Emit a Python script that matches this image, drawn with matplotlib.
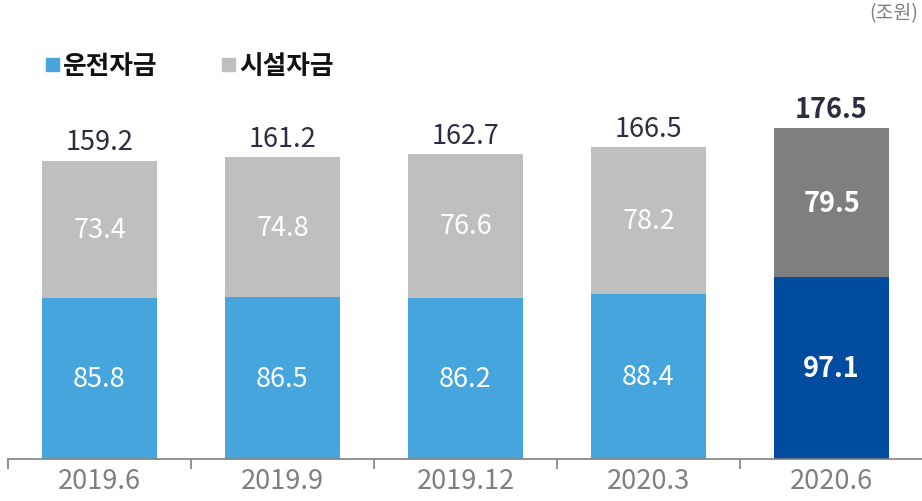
import matplotlib
matplotlib.use("Agg")
import matplotlib.pyplot as plt
from matplotlib.patches import Rectangle

plt.rcParams['font.family'] = ['Noto Sans CJK KR', 'DejaVu Sans']

categories = ["2019.6", "2019.9", "2019.12", "2020.3", "2020.6"]
operating = [85.8, 86.5, 86.2, 88.4, 97.1]
facility = [73.4, 74.8, 76.6, 78.2, 79.5]
totals = [159.2, 161.2, 162.7, 166.5, 176.5]
legend_labels = ["운전자금", "시설자금"]
unit_label = "(조원)"

W, H = 922, 502
fig = plt.figure(figsize=(W / 100, H / 100), dpi=100)
base_px = 460
ax = fig.add_axes([8 / W, (H - base_px) / H, 915 / W, base_px / H])
ax.set_xlim(-0.5, len(categories) - 0.5)
ax.set_ylim(0, base_px / 1.872)

blue = ["#45A5DC"] * 4 + ["#014C9E"]
gray = ["#BFBFBF"] * 4 + ["#7F7F7F"]
x = list(range(len(categories)))
bw = 0.625
ax.bar(x, operating, width=bw, color=blue, zorder=2)
ax.bar(x, facility, width=bw, bottom=operating, color=gray, zorder=2)

for i in x:
    last = i == len(categories) - 1
    wt = 'bold' if last else 'medium'
    ax.text(i, operating[i] / 2, f"{operating[i]:.1f}", ha='center', va='center',
            color='white', fontsize=19.5, fontweight=wt)
    ax.text(i, operating[i] + facility[i] / 2, f"{facility[i]:.1f}", ha='center', va='center',
            color='white', fontsize=19.5, fontweight=wt)
    ax.text(i, totals[i] + 3, f"{totals[i]:.1f}", ha='center', va='bottom',
            color='#2B2D42', fontsize=19.5, fontweight=wt)

for s in ['top', 'right', 'left']:
    ax.spines[s].set_visible(False)
ax.spines['bottom'].set_color('#808080')
ax.spines['bottom'].set_linewidth(1.2)
ax.set_yticks([])
ax.set_xticks([i - 0.5 for i in range(len(categories) + 1)], minor=False)
ax.set_xticklabels([])
ax.tick_params(axis='x', which='major', direction='out', length=7, width=1.2, color='#808080')
ax.set_xticks(x, minor=True)
ax.set_xticklabels(categories, minor=True)
ax.tick_params(axis='x', which='minor', length=0, pad=6, labelsize=19.5, labelcolor='#7F7F7F')

# legend
leg_colors = ["#45A5DC", "#BFBFBF"]
leg_x = [46, 222]
for lx, c, lab in zip(leg_x, leg_colors, legend_labels):
    fig.patches.append(Rectangle((lx / W, 1 - 72 / H), 13 / W, 13 / H, transform=fig.transFigure,
                                 color=c, figure=fig))
    fig.text((lx + 17) / W, 1 - 66 / H, lab, ha='left', va='center', fontsize=18.5,
             fontweight='bold', color='#111111')

fig.text(918 / W, 1 - 14 / H, unit_label, ha='right', va='center', fontsize=14, color='#7F7F7F')

fig.savefig("out.png", dpi=100)
